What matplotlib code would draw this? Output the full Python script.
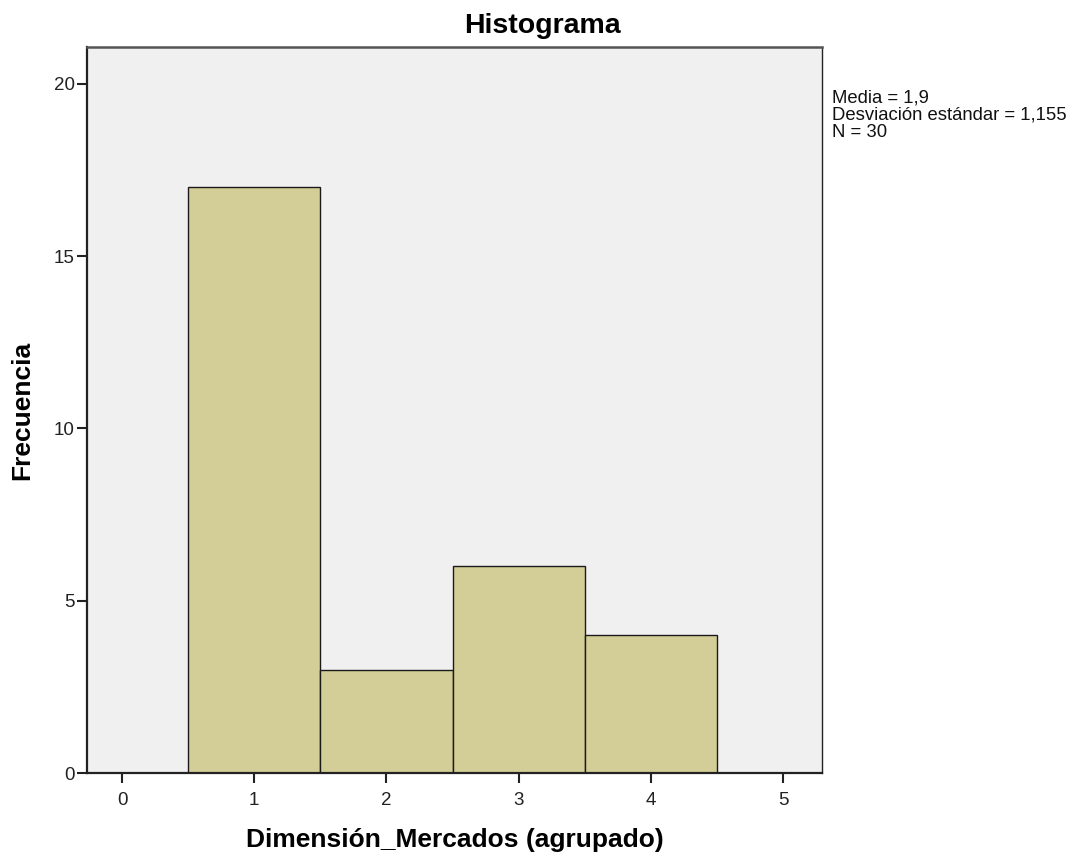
import matplotlib
matplotlib.use("Agg")
import matplotlib.pyplot as plt

# grouped values and their counts
categorias = [1, 2, 3, 4]
frecuencias = [17, 3, 6, 4]
xticks = [0, 1, 2, 3, 4, 5]
yticks = [0, 5, 10, 15, 20]
stats_txt = "Media = 1,9\nDesviación estándar = 1,155\nN = 30"

plt.rcParams['font.family'] = ['Liberation Sans', 'DejaVu Sans']

fig = plt.figure(figsize=(10.85, 8.55), dpi=100)
ax = fig.add_axes([0.0802, 0.0959, 0.6774, 0.8491])
ax.set_facecolor('#f0f0f0')

ax.bar(categorias, frecuencias, width=1.0, color='#d3ce97',
       edgecolor='#1a1a1a', linewidth=1.0)

ax.set_xlim(-0.265, 5.295)
ax.set_ylim(0, 21.07)
ax.set_xticks(xticks)
ax.set_yticks(yticks)
ax.tick_params(axis='both', direction='out', length=7, width=1.5,
               labelsize=13.5, colors='#222222')
ax.tick_params(axis='x', pad=7)
ax.tick_params(axis='y', pad=2)
for s in ax.spines.values():
    s.set_color('#222222')
    s.set_linewidth(1.0)
ax.spines['left'].set_linewidth(1.6)
ax.spines['bottom'].set_linewidth(1.6)
ax.spines['top'].set_color('#555555')
ax.spines['top'].set_linewidth(1.8)

# title sits centred on the whole figure, not on the axes
fig.text(0.5, 1 - 33 / 855, "Histograma", fontsize=20.5, fontweight='bold',
         ha='center', va='baseline')
ax.set_xlabel("Dimensión_Mercados (agrupado)", fontsize=19,
              fontweight='bold', labelpad=13)
ax.set_ylabel("Frecuencia", fontsize=19, fontweight='bold', labelpad=14)

fig.text(0.767, 0.895, stats_txt, fontsize=13.3, va='top', ha='left',
         linespacing=1.0, color='#111111')

fig.savefig("out.png", dpi=100)
